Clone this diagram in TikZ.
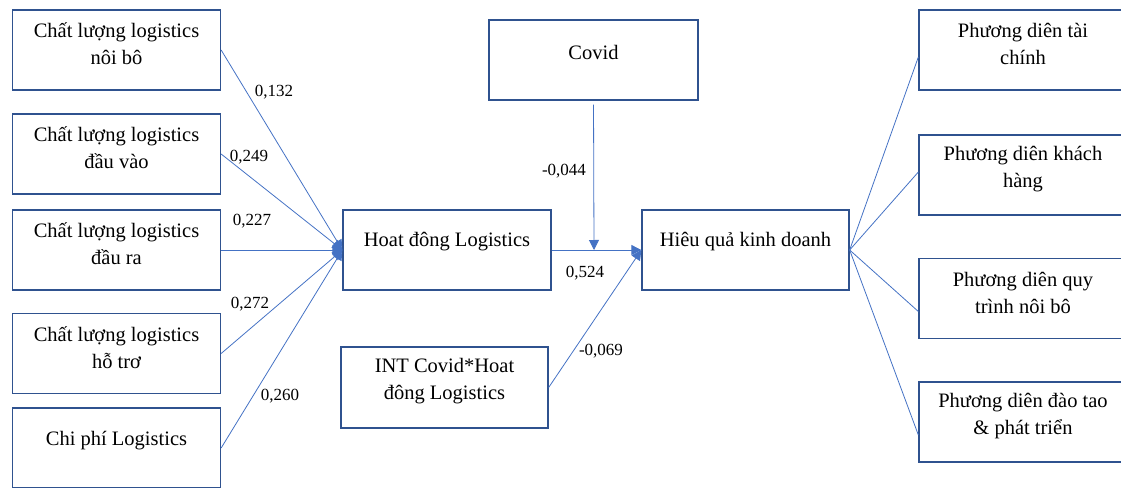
\documentclass[tikz,border=0pt]{standalone}
\usepackage{fontspec}
\setmainfont{Liberation Serif}
\usetikzlibrary{arrows.meta}
\definecolor{boxblue}{HTML}{2F528F}
\definecolor{lineblue}{HTML}{4472C4}
\tikzset{
  box/.style={draw=boxblue, line width=1.3pt, minimum width=208pt, minimum height=80pt, inner sep=0pt, fill=white},
  txt/.style={align=center, font=\fontsize{20.5}{27}\selectfont, inner sep=0pt},
  lab/.style={font=\fontsize{17}{20}\selectfont, inner sep=0pt},
  conn/.style={draw=lineblue, line width=0.8pt},
  arr/.style={conn, -{Triangle[length=10pt,width=10pt]}},
}
\begin{document}
\begin{tikzpicture}[x=1pt,y=-1pt]
\useasboundingbox (0,0) rectangle (1121,487);
% boxes
\node[box] (b1) at (116.5,50) {};
\node[box] (b2) at (116.5,154) {};
\node[box] (b3) at (116.5,250) {};
\node[box] (b4) at (116.5,353.5) {};
\node[box] (b5) at (116.5,448) {};
\node[box] (ha) at (447,250) {};
\node[box, minimum width=207pt, minimum height=81pt] (int) at (444.5,387.5) {};
\node[box, minimum width=209pt] (cv) at (593.5,60) {};
\node[box, minimum width=207pt] (hq) at (745.5,250) {};
\node[box] (r1) at (1023,50) {};
\node[box] (r2) at (1023,175) {};
\node[box] (r3) at (1023,298.5) {};
\node[box] (r4) at (1023,422) {};
% texts
\node[txt] (tb1) at ([yshift=6pt]b1.center) {Chất lượng logistics\\nôi bô};
\node[txt] (tb2) at ([yshift=6pt]b2.center) {Chất lượng logistics\\đầu vào};
\node[txt] (tb3) at ([yshift=6pt]b3.center) {Chất lượng logistics\\đầu ra};
\node[txt] (tb4) at ([yshift=6pt]b4.center) {Chất lượng logistics\\hỗ trơ};
\node[txt] (tb5) at ([yshift=7pt]b5.center) {Chi phí Logistics};
\node[txt] (tha) at ([yshift=8pt]ha.center) {Hoat đông Logistics};
\node[txt] (tint) at ([yshift=6pt]int.center) {INT Covid*Hoat\\đông Logistics};
\node[txt] (tcv) at ([yshift=8pt]cv.center) {Covid};
\node[txt] (thq) at ([yshift=8pt]hq.center) {Hiêu quả kinh doanh};
\node[txt] (tr1) at ([yshift=6pt]r1.center) {Phương diên tài\\chính};
\node[txt] (tr2) at ([yshift=6pt]r2.center) {Phương diên khách\\hàng};
\node[txt] (tr3) at ([yshift=6pt]r3.center) {Phương diên quy\\trình nôi bô};
\node[txt] (tr4) at ([yshift=6pt]r4.center) {Phương diên đào tao\\\& phát triển};
% connectors
\draw[arr] (b1.east) -- (ha.west);
\draw[arr] (b2.east) -- (ha.west);
\draw[arr] (b3.east) -- (ha.west);
\draw[arr] (b4.east) -- (ha.west);
\draw[arr] (b5.east) -- (ha.west);
\draw[arr] (ha.east) -- (hq.west);
\draw[arr] (int.east) -- (hq.west);
\coordinate (cvtip) at (594,250);
\draw[arr, shorten <=4pt] (cv.south) -- (cvtip);
\draw[conn] (hq.east) -- ([yshift=-7pt]r1.west);
\draw[conn] (hq.east) -- ([yshift=3pt]r2.west);
\draw[conn] (hq.east) -- ([yshift=-13pt]r3.west);
\draw[conn] (hq.east) -- ([yshift=-13pt]r4.west);
% labels
\node[lab] (l1) at (274,92) {0,132};
\node[lab] (l2) at (249,157) {0,249};
\node[lab] (l3) at (252,221) {0,227};
\node[lab] (l4) at (250,304) {0,272};
\node[lab] (l5) at (280,396) {0,260};
\node[lab] (l6) at (585,273) {0,524};
\node[lab] (l7) at (601,351) {-0,069};
\node[lab] (l8) at (564,171) {-0,044};
\end{tikzpicture}
\end{document}
